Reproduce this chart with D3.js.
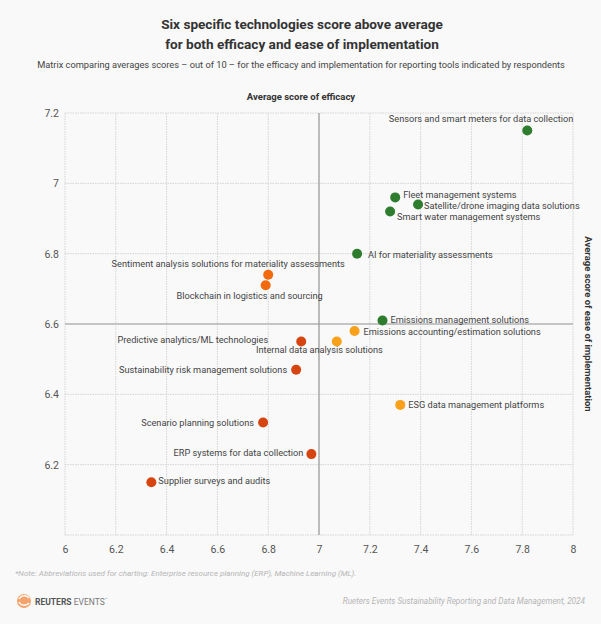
<!DOCTYPE html>
<html>
<head>
<meta charset="utf-8">
<script src="https://cdn.jsdelivr.net/npm/d3@7"></script>
<style>
  html, body { margin: 0; padding: 0; background: #f9f9f9; }
  svg { display: block; }
  text { font-family: "Roboto", "Noto Sans", sans-serif; }
</style>
</head>
<body>
<svg id="chart" width="601" height="624"></svg>
<script>
// ---------- data ----------
const technologies = [
  "Sensors and smart meters for data collection",
  "Fleet management systems",
  "Satellite/drone imaging data solutions",
  "Smart water management systems",
  "AI for materiality assessments",
  "Emissions management solutions",
  "Emissions accounting/estimation solutions",
  "Internal data analysis solutions",
  "ESG data management platforms",
  "Sentiment analysis solutions for materiality assessments",
  "Blockchain in logistics and sourcing",
  "Predictive analytics/ML technologies",
  "Sustainability risk management solutions",
  "Scenario planning solutions",
  "ERP systems for data collection",
  "Supplier surveys and audits"
];
const efficacy = [7.82, 7.30, 7.39, 7.28, 7.15, 7.25, 7.14, 7.07, 7.32, 6.80, 6.79, 6.93, 6.91, 6.78, 6.97, 6.34];
const implementation = [7.15, 6.96, 6.94, 6.92, 6.80, 6.61, 6.58, 6.55, 6.37, 6.74, 6.71, 6.55, 6.47, 6.32, 6.23, 6.15];
const groups = ["high", "high", "high", "high", "high", "high",
  "mid", "mid", "mid", "upper", "upper", "low", "low", "low", "low", "low"];
const xTicks = [6, 6.2, 6.4, 6.6, 6.8, 7, 7.2, 7.4, 7.6, 7.8, 8];
const yTicks = [6.2, 6.4, 6.6, 6.8, 7, 7.2];
const averageEfficacy = 7;
const averageImplementation = 6.6;

// ---------- styling / layout (not data) ----------
const groupColors = { high: "#2e7d2e", mid: "#f9a11b", upper: "#f26a0e", low: "#d64510" };
// label placement: [dx, dy, anchor]
const labelPlacement = [
  [46, -12, "end"], [8, -3, "start"], [6, 1, "start"], [7, 5.5, "start"],
  [11, 1, "start"], [8, -1, "start"], [9, 1, "start"], [46, 8, "end"],
  [8, 0, "start"], [-40, -11, "middle"], [-16, 10, "middle"], [-33, -2, "end"],
  [-9, 0, "end"], [-9, 0, "end"], [-8, -1, "end"], [7, -1, "start"]
];

const svg = d3.select("#chart");
const margin = { left: 64, right: 28, top: 113, bottom: 89 };
const W = 601, H = 624;
const x = d3.scaleLinear().domain([6, 8]).range([margin.left + 1, W - margin.right]);
const y = d3.scaleLinear().domain([6, 7.2]).range([H - margin.bottom, margin.top]);

// title
svg.append("text").attr("x", 302).attr("y", 29).attr("text-anchor", "middle")
  .attr("font-size", 13.6).attr("font-weight", "bold").attr("fill", "#333")
  .text("Six specific technologies score above average");
svg.append("text").attr("x", 302).attr("y", 48.5).attr("text-anchor", "middle")
  .attr("font-size", 13.6).attr("font-weight", "bold").attr("fill", "#333")
  .text("for both efficacy and ease of implementation");
svg.append("text").attr("x", 301).attr("y", 68).attr("text-anchor", "middle")
  .attr("font-size", 9.25).attr("fill", "#444")
  .text("Matrix comparing averages scores – out of 10 – for the efficacy and implementation for reporting tools indicated by respondents");
svg.append("text").attr("x", 301).attr("y", 100).attr("text-anchor", "middle")
  .attr("font-size", 9.5).attr("font-weight", "bold").attr("fill", "#333")
  .text("Average score of efficacy");
svg.append("text").attr("transform", `translate(585, ${y(6.6)}) rotate(90)`)
  .attr("text-anchor", "middle").attr("font-size", 9.5).attr("font-weight", "bold").attr("fill", "#333")
  .text("Average score of ease of implementation");

// grid
const grid = svg.append("g");
grid.selectAll("line.v").data(xTicks).join("line")
  .attr("x1", d => x(d)).attr("x2", d => x(d))
  .attr("y1", y(6)).attr("y2", y(7.2))
  .attr("stroke", "#d4d4d4").attr("stroke-dasharray", "1.5,1").attr("stroke-width", 1);
grid.selectAll("line.h").data([6].concat(yTicks)).join("line")
  .attr("y1", d => y(d)).attr("y2", d => y(d))
  .attr("x1", x(6)).attr("x2", x(8))
  .attr("stroke", "#d4d4d4").attr("stroke-dasharray", "1.5,1").attr("stroke-width", 1);

// average lines
svg.append("line").attr("x1", x(averageEfficacy)).attr("x2", x(averageEfficacy))
  .attr("y1", y(6)).attr("y2", y(7.2)).attr("stroke", "#9a9a9a").attr("stroke-width", 1.2);
svg.append("line").attr("y1", y(averageImplementation)).attr("y2", y(averageImplementation))
  .attr("x1", x(6)).attr("x2", x(8)).attr("stroke", "#9a9a9a").attr("stroke-width", 1.2);

// axes (labels only)
const xAxis = svg.append("g").attr("transform", `translate(0, ${y(6)})`)
  .call(d3.axisBottom(x).tickValues(xTicks).tickSize(0).tickPadding(11).tickFormat(d3.format("~g")));
const yAxis = svg.append("g").attr("transform", `translate(${x(6) - 6}, 0)`)
  .call(d3.axisLeft(y).tickValues(yTicks).tickSize(0).tickPadding(0).tickFormat(d3.format("~g")));
[xAxis, yAxis].forEach(a => {
  a.select(".domain").remove();
  a.selectAll("text").attr("font-size", 10.5).attr("fill", "#555")
    .attr("font-family", "Roboto, sans-serif");
});

// points
const pts = technologies.map((t, i) => ({ t, ex: efficacy[i], im: implementation[i], g: groups[i], p: labelPlacement[i] }));
svg.append("g").selectAll("circle").data(pts).join("circle")
  .attr("cx", d => x(d.ex)).attr("cy", d => y(d.im)).attr("r", 5)
  .attr("fill", d => groupColors[d.g]);
svg.append("g").selectAll("text").data(pts).join("text")
  .attr("x", d => x(d.ex) + d.p[0]).attr("y", d => y(d.im) + d.p[1])
  .attr("dy", "0.35em").attr("text-anchor", d => d.p[2])
  .attr("font-size", 9.2).attr("fill", "#444").text(d => d.t);

// footer
svg.append("text").attr("x", 15).attr("y", 576).attr("font-size", 8).attr("font-style", "italic")
  .attr("fill", "#b5b5b5").text("*Note: Abbreviations used for charting: Enterprise resource planning (ERP), Machine Learning (ML).");
svg.append("text").attr("x", 585).attr("y", 604).attr("text-anchor", "end").attr("font-size", 8.2)
  .attr("font-style", "italic").attr("fill", "#b5b5b5")
  .text("Rueters Events Sustainability Reporting and Data Management, 2024");
const logo = svg.append("g").attr("transform", "translate(24, 601)");
logo.append("circle").attr("r", 7).attr("fill", "#f6a46e");
logo.append("path").attr("d", "M-5,-2 A6,6 0 0,1 5,-3 M-5,1 A6,6 0 0,0 5,2").attr("stroke", "#fff")
  .attr("stroke-width", 1.3).attr("fill", "none");
const lt = logo.append("text").attr("x", 11).attr("y", 3.5).attr("font-size", 8.5);
lt.append("tspan").attr("font-weight", "bold").attr("fill", "#555").text("REUTERS ");
lt.append("tspan").attr("fill", "#777").text("EVENTS");
lt.append("tspan").attr("fill", "#999").attr("font-size", 5).attr("dy", -4).text("™");
</script>
</body>
</html>
